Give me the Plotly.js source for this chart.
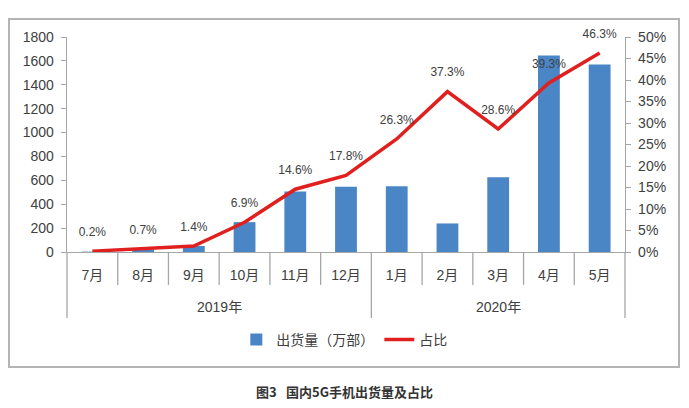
<!DOCTYPE html>
<html><head><meta charset="utf-8">
<script src="https://cdn.plot.ly/plotly-3.0.1.min.js"></script>
<style>
html,body{margin:0;padding:0;background:#fff;}
#wrap{position:relative;width:689px;height:408px;}
#chart{position:absolute;left:0;top:0;width:689px;height:408px;}
#frame{position:absolute;left:8px;top:18px;width:668px;height:346px;border:2px solid #b4b4b4;pointer-events:none;}
</style></head>
<body><div id="wrap"><div id="chart"></div><div id="frame"></div></div>
<script>
const months = ['7月','8月','9月','10月','11月','12月','1月','2月','3月','4月','5月'];
const years = ['2019年','2020年'];
const yearSpans = [6, 5];
const shipments = [3, 21, 50, 250, 507, 546, 550, 239, 626, 1645, 1570];
const share = [0.2, 0.7, 1.4, 6.9, 14.6, 17.8, 26.3, 37.3, 28.6, 39.3, 46.3];
const leftTicks = [0,200,400,600,800,1000,1200,1400,1600,1800];

const FONT = 'Liberation Sans, Arial, Noto Sans CJK SC, sans-serif';
const TXT = '#404040';
const AX = '#a6a6a6';
const n = months.length;

const shapes = [];
const bounds = [0];
let acc = 0; yearSpans.forEach(s => { acc += s; bounds.push(acc); });
for (let k = 0; k <= n; k++) {
  const long = bounds.includes(k);
  shapes.push({type:'line', xref:'paper', yref:'paper', x0:k/n, x1:k/n, y0:0, y1: long ? -0.307 : -0.153,
    line:{color:AX, width:1.3}});
}
const annotations = [];
let start = 0;
years.forEach((y, i) => {
  annotations.push({xref:'paper', yref:'paper', x:(start + yearSpans[i]/2)/n, y:-0.256, text:y, showarrow:false,
    xanchor:'center', yanchor:'middle', font:{family:FONT, size:14, color:TXT}});
  start += yearSpans[i];
});
annotations.push({xref:'paper', yref:'paper', x:0.497, y:-0.651, text:'<b>图3\u2002 国内5G手机出货量及占比</b>', showarrow:false,
  xanchor:'center', yanchor:'middle', font:{family:'Noto Sans CJK SC, sans-serif', size:13, color:'#333'}});

const data = [
  {type:'bar', x:months, y:shipments, name:'出货量（万部）', marker:{color:'#4a85c6'}, hoverinfo:'skip'},
  {type:'scatter', x:months, y:share, yaxis:'y2', name:'占比', mode:'lines+markers+text', cliponaxis:false,
   line:{color:'#e0201f', width:3.5}, marker:{size:18, color:'rgba(0,0,0,0)'},
   texttemplate:'%{y:.1f}%', textposition:'top center', textfont:{family:FONT, size:12, color:TXT}, hoverinfo:'skip'}
];
const layout = {
  width:689, height:408,
  margin:{l:67, r:64, t:37, b:156},
  paper_bgcolor:'rgba(0,0,0,0)', plot_bgcolor:'rgba(0,0,0,0)',
  font:{family:FONT, size:14, color:TXT},
  bargap:0.57,
  showlegend:true,
  legend:{orientation:'h', x:0.497, xanchor:'center', y:-0.409, yanchor:'middle', font:{family:FONT, size:14, color:TXT}, itemwidth:30},
  xaxis:{type:'category', range:[-0.5, n-0.5], showline:true, linecolor:AX, linewidth:1.3, ticks:'', ticklabelstandoff:10, showgrid:false, zeroline:false,
    tickfont:{family:FONT, size:14, color:TXT}},
  yaxis:{range:[0,1800], tickvals:leftTicks, showline:true, linecolor:AX, linewidth:1.3, ticks:'outside', ticklen:5, tickcolor:AX,
    showgrid:false, zeroline:false, tickfont:{family:FONT, size:14, color:TXT}, ticklabelstandoff:4},
  yaxis2:{overlaying:'y', side:'right', range:[0,50], dtick:5, ticksuffix:'%', showline:true, linecolor:AX, linewidth:1.3,
    ticks:'outside', ticklen:5, tickcolor:AX, showgrid:false, zeroline:false, tickfont:{family:FONT, size:14, color:TXT}, ticklabelstandoff:4},
  shapes:shapes,
  annotations:annotations
};
Plotly.newPlot('chart', data, layout, {displayModeBar:false, staticPlot:true});
</script></body></html>
